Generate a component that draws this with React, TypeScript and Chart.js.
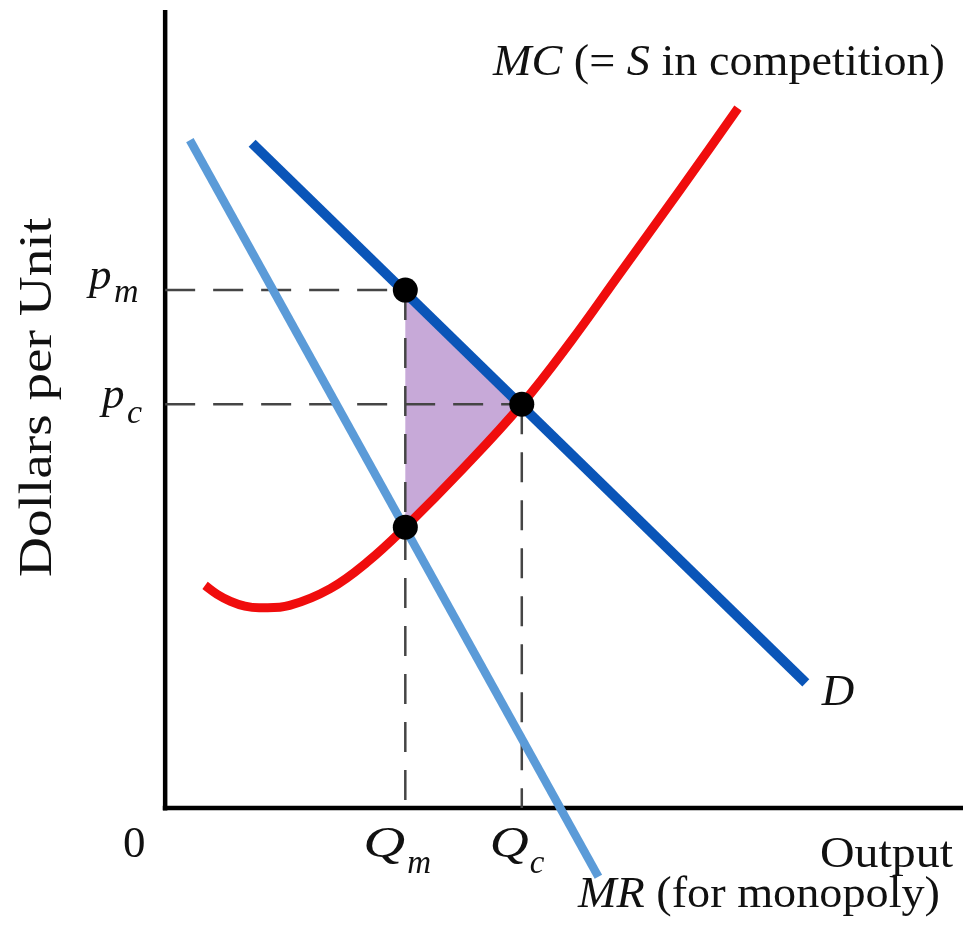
import { useEffect, useRef } from "react";
import { Chart, registerables } from "chart.js";

Chart.register(...registerables);

const W = 963;
const H = 943;

// Axis extents in data units (Output on x, Dollars per Unit on y)
const X_MIN = -20.7;
const X_MAX = 100;
const Y_MIN = -16.9;
const Y_MAX = 101.25;
const AXIS_TOP = 100;
const AXIS_RIGHT = 100;

// Demand curve D (straight line)
const demandX = [10.9, 80.3];
const demandY = [83.3, 15.7];

// Marginal revenue MR (straight line)
const mrX = [3.1, 54.3];
const mrY = [83.7, -8.6];

// Marginal cost MC (= S in competition)
const mcX = [5.0, 6.5, 8.2, 10.0, 11.9, 15.6, 20.7, 25.3, 30.1, 37.3, 44.7, 50.8, 57.0, 64.5, 71.8];
const mcY = [27.9, 26.8, 25.9, 25.3, 25.1, 25.4, 27.5, 30.8, 35.2, 42.5, 50.6, 58.4, 67.0, 77.4, 87.7];

// Key quantities and prices
const qm = 30.1;
const qc = 44.7;
const pm = 64.9;
const pc = 50.6;
const mcAtQm = 35.2;

// Deadweight loss triangle: along D from (qm,pm) to (qc,pc), back along MC
const shadeX = [30.1, 44.7, 37.3, 30.1, 30.1];
const shadeY = [64.9, 50.6, 42.5, 35.2, 64.9];

const zip = (xs: number[], ys: number[]) => xs.map((x, i) => ({ x, y: ys[i] }));

const SERIF = '"Liberation Serif", "Times New Roman", serif';

type Run = { t: string; i?: boolean; s?: number };

function drawRuns(
  ctx: CanvasRenderingContext2D,
  runs: Run[],
  x: number,
  y: number,
  size: number,
  fitWidth?: number
) {
  const font = (r: Run) => `${r.i ? "italic " : ""}${r.s ?? size}px ${SERIF}`;
  const ws = runs.map((r) => {
    ctx.font = font(r);
    return ctx.measureText(r.t).width;
  });
  const total = ws.reduce((a, b) => a + b, 0);
  const k = fitWidth ? fitWidth / total : 1;
  ctx.save();
  ctx.translate(x, y);
  ctx.scale(k, 1);
  let cx = 0;
  runs.forEach((r, idx) => {
    ctx.font = font(r);
    ctx.fillText(r.t, cx, 0);
    cx += ws[idx];
  });
  ctx.restore();
}

const labelPlugin = {
  id: "econLabels",
  afterDatasetsDraw(chart: any) {
    const ctx: CanvasRenderingContext2D = chart.ctx;
    const xs = chart.scales.x;
    const ys = chart.scales.y;
    const px = (v: number) => xs.getPixelForValue(v);
    const py = (v: number) => ys.getPixelForValue(v);
    ctx.save();
    ctx.fillStyle = "#111";
    ctx.textAlign = "left";
    ctx.textBaseline = "alphabetic";

    // MC label
    drawRuns(
      ctx,
      [{ t: "MC", i: true }, { t: " (= " }, { t: "S", i: true }, { t: " in competition)" }],
      493,
      75,
      45,
      452
    );
    // D label
    drawRuns(ctx, [{ t: "D", i: true }], px(demandX[1]) + 16, py(demandY[1]) + 22, 45);
    // MR label
    drawRuns(ctx, [{ t: "MR", i: true }, { t: " (for monopoly)" }], 578, 907, 45, 362);
    // Output
    drawRuns(ctx, [{ t: "Output" }], 820, 867, 45, 133);
    // 0
    drawRuns(ctx, [{ t: "0" }], 123, py(0) + 49, 45);

    const base = py(0) + 49;
    // Qm
    drawRuns(ctx, [{ t: "Q", i: true }], px(qm) - 42, base, 45, 42);
    drawRuns(ctx, [{ t: "m", i: true }], px(qm) + 2, base + 16, 33);
    // Qc
    drawRuns(ctx, [{ t: "Q", i: true }], px(qc) - 32, base, 45, 39);
    drawRuns(ctx, [{ t: "c", i: true }], px(qc) + 8, base + 16, 33);

    // pm
    drawRuns(ctx, [{ t: "p", i: true }], 89, py(pm) - 1, 45);
    drawRuns(ctx, [{ t: "m", i: true }], 114, py(pm) + 12, 34);
    // pc
    drawRuns(ctx, [{ t: "p", i: true }], 102, py(pc) + 4, 45);
    drawRuns(ctx, [{ t: "c", i: true }], 127, py(pc) + 19, 34);

    // Y axis title
    ctx.save();
    ctx.translate(51, 397.5);
    ctx.rotate(-Math.PI / 2);
    drawRuns(ctx, [{ t: "Dollars per Unit" }], -179.5, 0, 46, 359);
    ctx.restore();

    ctx.restore();
  },
};

export default function App() {
  const ref = useRef<HTMLCanvasElement | null>(null);

  useEffect(() => {
    document.body.style.margin = "0";
    document.body.style.background = "#ffffff";
    const canvas = ref.current;
    if (!canvas) return;

    const dash = { borderColor: "#454545", borderWidth: 2.5, borderDash: [30, 18], showLine: true, pointRadius: 0, fill: false };
    const axis = { borderColor: "#000000", borderWidth: 4.5, showLine: true, pointRadius: 0, fill: false, borderCapStyle: "butt" };

    const chart = new Chart(canvas, {
      type: "scatter",
      data: {
        datasets: [
          {
            label: "equilibria",
            data: [
              { x: qm, y: pm },
              { x: qc, y: pc },
              { x: qm, y: mcAtQm },
            ],
            showLine: false,
            pointRadius: 12.5,
            pointBackgroundColor: "#000000",
            pointBorderWidth: 0,
          },
          {
            label: "D",
            data: zip(demandX, demandY),
            showLine: true,
            borderColor: "#0a55b8",
            borderWidth: 10,
            pointRadius: 0,
            borderCapStyle: "butt",
          },
          {
            label: "MC",
            data: zip(mcX, mcY),
            showLine: true,
            borderColor: "#f00d0d",
            borderWidth: 9,
            pointRadius: 0,
            tension: 0.4,
            borderCapStyle: "butt",
          },
          {
            label: "MR",
            data: zip(mrX, mrY),
            showLine: true,
            borderColor: "#5b9bd8",
            borderWidth: 8.5,
            pointRadius: 0,
            borderCapStyle: "butt",
          },
          { label: "pm dash", data: [{ x: 0, y: pm }, { x: qm, y: pm }], ...dash },
          { label: "pc dash", data: [{ x: 0, y: pc }, { x: qc, y: pc }], ...dash },
          { label: "qm dash", data: [{ x: qm, y: pm }, { x: qm, y: 0 }], ...dash },
          { label: "qc dash", data: [{ x: qc, y: pc }, { x: qc, y: 0 }], ...dash },
          { label: "y axis", data: [{ x: 0, y: -0.3 }, { x: 0, y: AXIS_TOP }], ...axis },
          { label: "x axis", data: [{ x: -0.3, y: 0 }, { x: AXIS_RIGHT, y: 0 }], ...axis },
          {
            label: "deadweight loss",
            data: zip(shadeX, shadeY),
            showLine: true,
            borderWidth: 0,
            borderColor: "rgba(0,0,0,0)",
            backgroundColor: "#c7a9d8",
            pointRadius: 0,
            tension: 0,
            fill: "shape",
          },
        ] as any,
      },
      options: {
        responsive: false,
        maintainAspectRatio: false,
        animation: false,
        layout: { padding: 0, autoPadding: false },
        plugins: {
          legend: { display: false },
          tooltip: { enabled: false },
          title: { display: false },
        },
        scales: {
          x: { type: "linear", min: X_MIN, max: X_MAX, display: false },
          y: { type: "linear", min: Y_MIN, max: Y_MAX, display: false },
        },
      } as any,
      plugins: [labelPlugin],
    });

    return () => chart.destroy();
  }, []);

  return (
    <div style={{ width: W, height: H, background: "#fff" }}>
      <canvas ref={ref} width={W} height={H} style={{ display: "block", width: W, height: H }} />
    </div>
  );
}
